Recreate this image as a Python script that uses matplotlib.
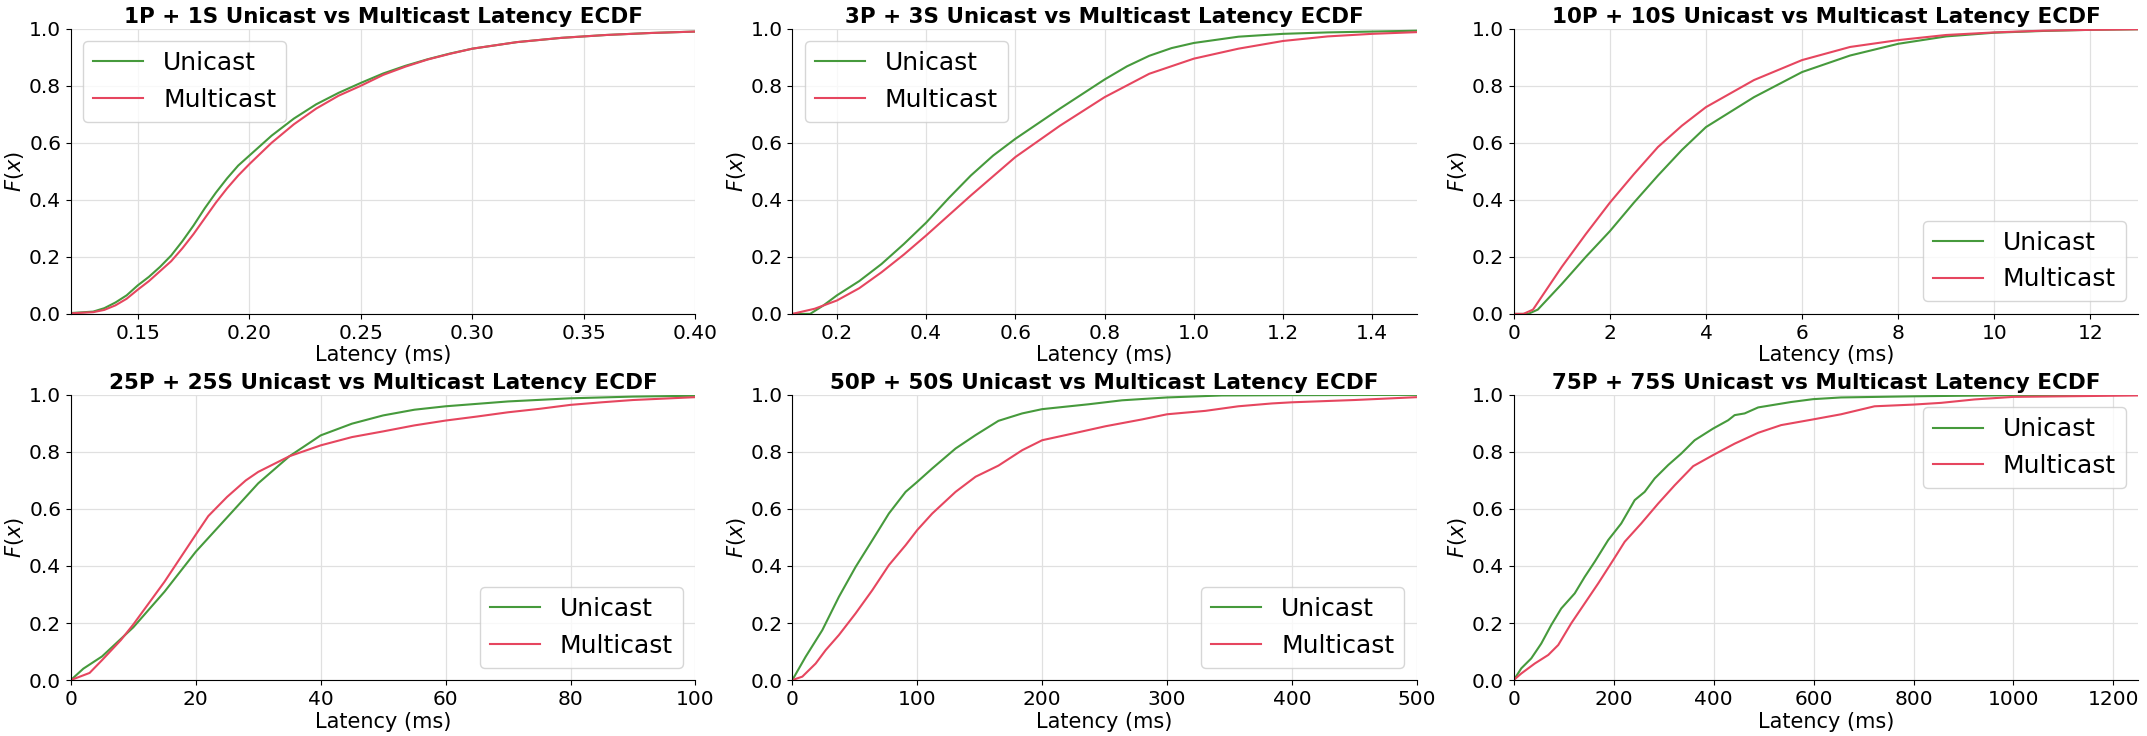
import matplotlib
matplotlib.use("Agg")
import matplotlib.pyplot as plt

# ----------------------------------------------------------------------
# ECDF points (latency, F(x))
# ----------------------------------------------------------------------
titles = ["1P + 1S", "3P + 3S", "10P + 10S", "25P + 25S", "50P + 50S", "75P + 75S"]
xlims = [(0.12, 0.40), (0.1, 1.5), (0, 13), (0, 100), (0, 500), (0, 1250)]
legend_locs = ["upper left", "upper left", "lower right",
               "lower right", "lower right", "upper right"]

# 1P + 1S
uni_x_1 = [0.12, 0.13, 0.135, 0.14, 0.145, 0.15, 0.155, 0.16, 0.165, 0.17, 0.175,
           0.18, 0.185, 0.19, 0.195, 0.20, 0.21, 0.22, 0.23, 0.24, 0.25, 0.26,
           0.27, 0.28, 0.29, 0.30, 0.32, 0.34, 0.36, 0.38, 0.40]
uni_f_1 = [0.003, 0.008, 0.02, 0.04, 0.065, 0.10, 0.13, 0.165, 0.205, 0.255, 0.31,
           0.37, 0.425, 0.475, 0.52, 0.555, 0.625, 0.685, 0.735, 0.775, 0.81, 0.843,
           0.87, 0.893, 0.913, 0.93, 0.953, 0.968, 0.978, 0.985, 0.99]
mul_x_1 = uni_x_1
mul_f_1 = [0.002, 0.006, 0.014, 0.03, 0.053, 0.085, 0.115, 0.15, 0.185, 0.23, 0.28,
           0.335, 0.39, 0.44, 0.485, 0.525, 0.60, 0.665, 0.72, 0.765, 0.80, 0.838,
           0.867, 0.892, 0.912, 0.93, 0.953, 0.968, 0.978, 0.985, 0.99]

# 3P + 3S
uni_x_2 = [0.1, 0.14, 0.15, 0.17, 0.2, 0.25, 0.3, 0.35, 0.4, 0.45, 0.5, 0.55, 0.6,
           0.7, 0.8, 0.85, 0.9, 0.95, 1.0, 1.1, 1.2, 1.3, 1.4, 1.5]
uni_f_2 = [0.0, 0.0, 0.01, 0.03, 0.065, 0.115, 0.175, 0.245, 0.32, 0.405, 0.485,
           0.555, 0.614, 0.72, 0.822, 0.868, 0.905, 0.932, 0.95, 0.972, 0.982,
           0.987, 0.99, 0.993]
mul_x_2 = [0.1, 0.15, 0.2, 0.25, 0.3, 0.35, 0.4, 0.5, 0.6, 0.7, 0.8, 0.9, 1.0, 1.1,
           1.2, 1.3, 1.4, 1.5]
mul_f_2 = [0.0, 0.018, 0.047, 0.09, 0.146, 0.208, 0.275, 0.415, 0.55, 0.66, 0.76,
           0.842, 0.895, 0.93, 0.957, 0.973, 0.982, 0.988]

# 10P + 10S
uni_x_3 = [0, 0.3, 0.5, 1, 1.5, 2, 2.5, 3, 3.5, 4, 5, 6, 7, 8, 9, 10, 11, 12, 13]
uni_f_3 = [0.0, 0.0, 0.015, 0.105, 0.20, 0.29, 0.39, 0.485, 0.575, 0.655, 0.76,
           0.848, 0.906, 0.947, 0.973, 0.986, 0.992, 0.996, 0.998]
mul_x_3 = [0, 0.2, 0.4, 0.5, 0.7, 1, 1.5, 2, 2.5, 3, 3.5, 4, 5, 6, 7, 8, 9, 10,
           11, 12, 13]
mul_f_3 = [0.0, 0.0, 0.015, 0.04, 0.09, 0.165, 0.28, 0.39, 0.49, 0.585, 0.66,
           0.725, 0.82, 0.89, 0.936, 0.96, 0.978, 0.987, 0.993, 0.996, 0.998]

# 25P + 25S
uni_x_4 = [0, 2, 5, 10, 15, 20, 25, 30, 35, 40, 45, 50, 55, 60, 70, 80, 90, 100]
uni_f_4 = [0.0, 0.04, 0.083, 0.185, 0.31, 0.45, 0.57, 0.69, 0.785, 0.858,
           0.899, 0.928, 0.948, 0.96, 0.977, 0.988, 0.994, 0.997]
mul_x_4 = [0, 3, 5, 8, 10, 15, 20, 22, 25, 28, 30, 35, 40, 45, 50, 55, 60, 65,
           70, 75, 80, 85, 90, 95, 100]
mul_f_4 = [0.0, 0.025, 0.07, 0.14, 0.195, 0.345, 0.51, 0.575, 0.642, 0.70, 0.73,
           0.785, 0.823, 0.852, 0.872, 0.893, 0.91, 0.924, 0.939, 0.951, 0.965,
           0.974, 0.982, 0.987, 0.992]

# 50P + 50S
uni_x_5 = [0, 10.7, 24, 37.3, 50.7, 64, 77.3, 90.7, 100, 112, 130.7, 146.7, 165,
           184, 200, 237, 264, 300, 344, 400, 500]
uni_f_5 = [0.0, 0.082, 0.175, 0.292, 0.397, 0.49, 0.584, 0.66, 0.695, 0.742,
           0.812, 0.859, 0.909, 0.935, 0.95, 0.967, 0.981, 0.991, 0.998, 0.999, 1.0]
mul_x_5 = [0, 8, 18.7, 26.7, 37.3, 50.7, 64, 77.3, 90.7, 100, 112, 130.7, 146.7,
           165, 184, 200, 224, 250.7, 280, 300, 330.7, 357, 384, 400, 450, 500]
mul_f_5 = [0.0, 0.012, 0.058, 0.105, 0.158, 0.234, 0.315, 0.403, 0.473, 0.526,
           0.584, 0.66, 0.713, 0.752, 0.806, 0.841, 0.864, 0.89, 0.914, 0.932,
           0.944, 0.96, 0.97, 0.974, 0.982, 0.992]

# 75P + 75S
uni_x_6 = [0, 15, 35, 55, 75, 95, 122, 142, 162, 189, 215, 242, 262, 282, 309,
           335, 362, 399, 429, 442, 462, 489, 555, 599, 655, 800, 1000, 1250]
uni_f_6 = [0.0, 0.041, 0.076, 0.128, 0.193, 0.251, 0.304, 0.362, 0.415, 0.491,
           0.549, 0.631, 0.66, 0.707, 0.754, 0.794, 0.841, 0.882, 0.911, 0.929,
           0.935, 0.956, 0.975, 0.985, 0.991, 0.995, 0.999, 1.0]
mul_x_6 = [0, 15, 42, 69, 89, 115, 142, 169, 199, 222, 255, 289, 322, 359, 399,
           442, 489, 535, 599, 655, 722, 800, 855, 922, 1000, 1250]
mul_f_6 = [0.0, 0.023, 0.058, 0.088, 0.123, 0.199, 0.269, 0.339, 0.421, 0.485,
           0.549, 0.619, 0.683, 0.75, 0.789, 0.829, 0.867, 0.894, 0.914, 0.932,
           0.96, 0.966, 0.972, 0.984, 0.993, 0.998]

unicast = [(uni_x_1, uni_f_1), (uni_x_2, uni_f_2), (uni_x_3, uni_f_3),
           (uni_x_4, uni_f_4), (uni_x_5, uni_f_5), (uni_x_6, uni_f_6)]
multicast = [(mul_x_1, mul_f_1), (mul_x_2, mul_f_2), (mul_x_3, mul_f_3),
             (mul_x_4, mul_f_4), (mul_x_5, mul_f_5), (mul_x_6, mul_f_6)]

UNI_COLOR = "#469a3c"
MUL_COLOR = "#e6465f"

fig, axes = plt.subplots(2, 3, figsize=(21.47, 7.36), dpi=100)
fig.subplots_adjust(left=0.033, right=0.996, bottom=0.076, top=0.961,
                    wspace=0.155, hspace=0.284)

for i, ax in enumerate(axes.flat):
    ux, uf = unicast[i]
    mx, mf = multicast[i]
    ax.plot(ux, uf, color=UNI_COLOR, lw=1.5, label="Unicast")
    ax.plot(mx, mf, color=MUL_COLOR, lw=1.5, label="Multicast")
    ax.set_xlim(*xlims[i])
    ax.set_ylim(0, 1)
    ax.set_title(f"{titles[i]} Unicast vs Multicast Latency ECDF",
                 fontsize=15.5, fontweight="bold", pad=4)
    ax.set_xlabel("Latency (ms)", fontsize=15, labelpad=2)
    ax.set_ylabel("$F(x)$", fontsize=15, labelpad=2)
    ax.tick_params(labelsize=14.5)
    ax.grid(True, color="#e0e0e0", lw=0.9)
    ax.set_axisbelow(True)
    ax.spines["top"].set_visible(False)
    ax.spines["right"].set_visible(False)
    ax.legend(loc=legend_locs[i], fontsize=18)

fig.savefig("out.png", dpi=100)
